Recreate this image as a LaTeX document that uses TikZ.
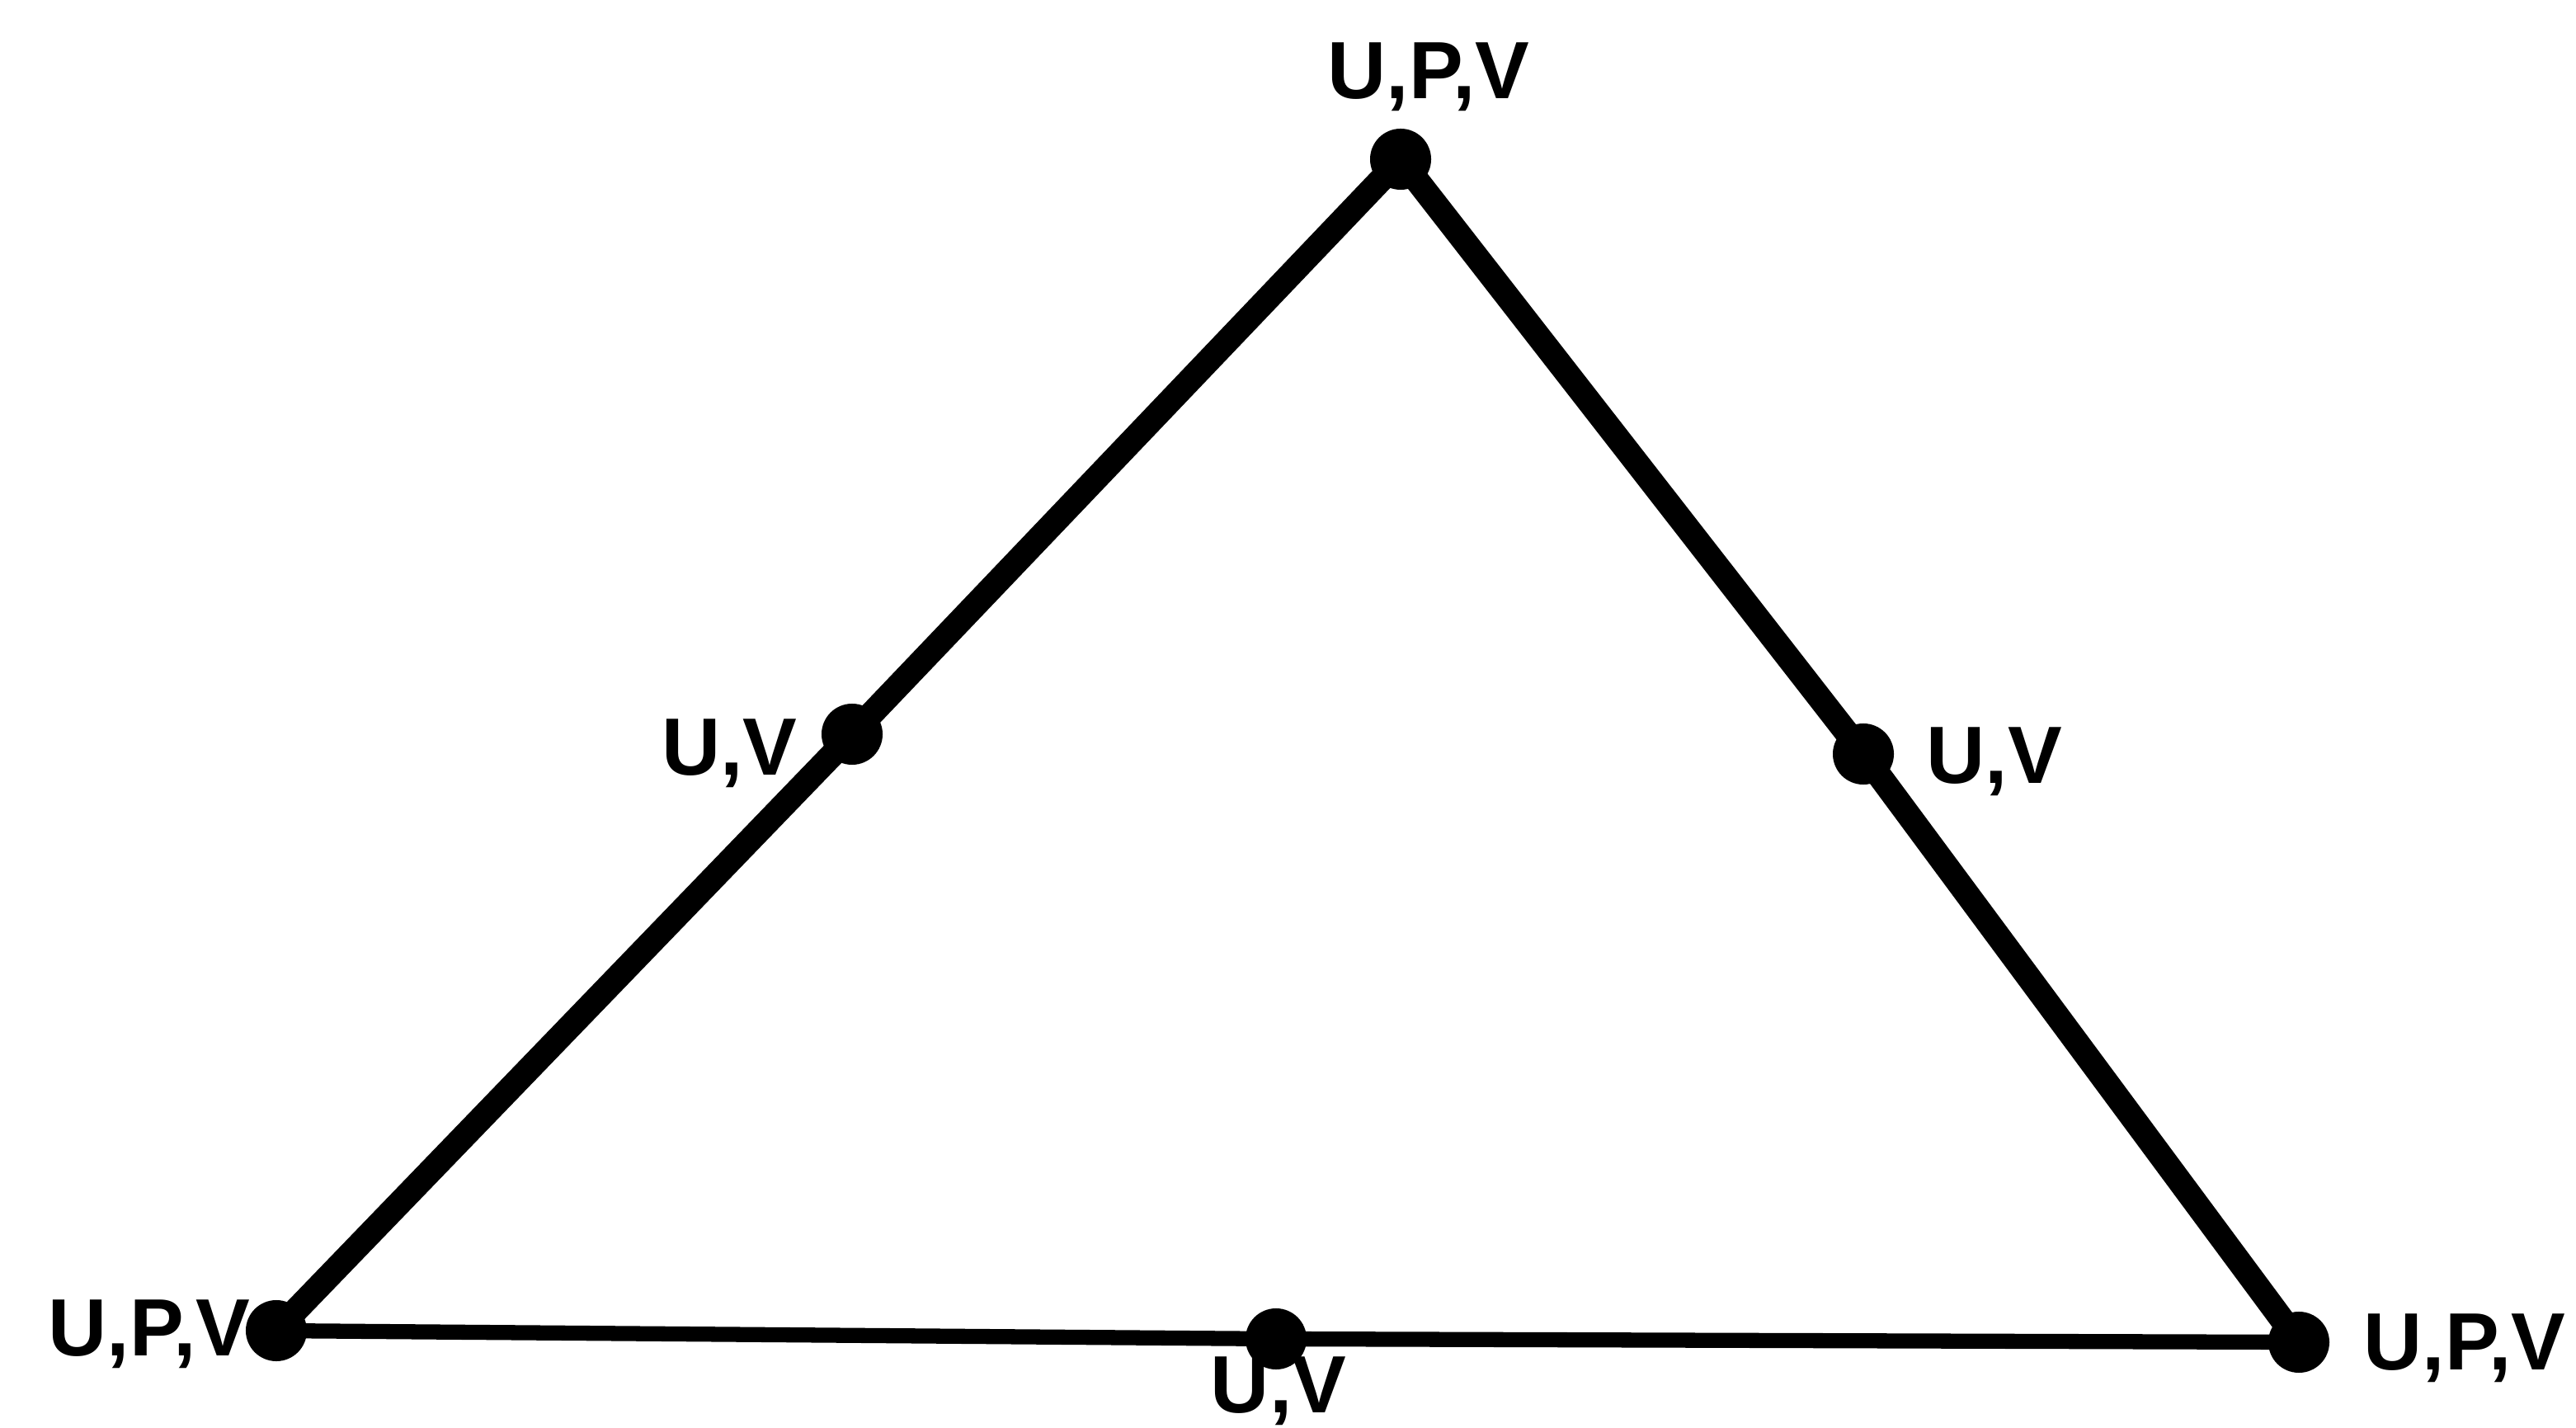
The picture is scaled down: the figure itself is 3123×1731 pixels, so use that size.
\documentclass[tikz,border=0pt]{standalone}
\usepackage{fontspec}
\setmainfont{Liberation Sans}
\usetikzlibrary{positioning}
\tikzset{
  vertex/.style={circle,fill=black,inner sep=0pt,minimum size=0.74cm},
  sideedge/.style={line width=8.5pt,line join=round,line cap=round},
  bottomedge/.style={line width=5.2pt,line cap=round},
  tag/.style={font=\fontsize{28}{30}\selectfont\bfseries,inner sep=0pt}
}
\begin{document}
\begin{tikzpicture}[x=0.01cm,y=-0.01cm]
\useasboundingbox (0,0) rectangle (3123,1731);
% --- corners and mid points
\node[vertex] (top) at (1698,193) {};
\node[vertex] (lmid) at (1033,890) {};
\node[vertex] (rmid) at (2259,914) {};
\node[vertex] (bl) at (335,1613) {};
\node[vertex] (bmid) at (1547,1623) {};
\node[vertex] (br) at (2787,1627) {};
% --- sides
\draw[sideedge] (bl.center) -- (lmid.center) -- (top.center) -- (rmid.center) -- (br.center);
\draw[bottomedge] (bl.center) -- (bmid.center) -- (br.center);
% --- labels
\node[tag,anchor=base] (toptag) at (1732,120) {U,P,V};
\node[tag,anchor=base east] (lmidtag) at (967,940) {U,V};
\node[tag,anchor=base west] (rmidtag) at (2335,950) {U,V};
\node[tag,anchor=base east] (bltag) at (304,1643) {U,P,V};
\node[tag,anchor=base] (bmidtag) at (1550,1712) {U,V};
\node[tag,anchor=base west] (brtag) at (2865,1660) {U,P,V};
\end{tikzpicture}
\end{document}
